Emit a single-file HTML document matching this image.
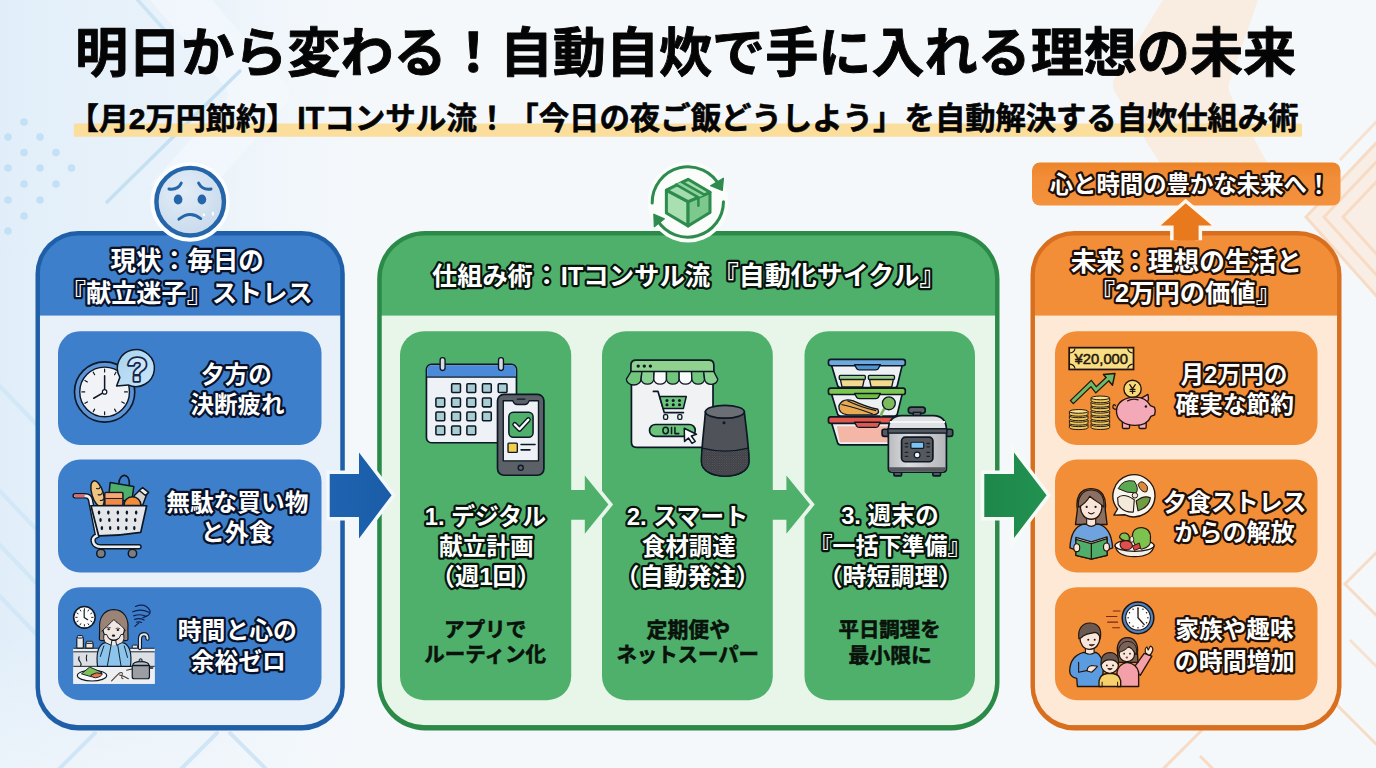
<!DOCTYPE html>
<html lang="ja"><head><meta charset="utf-8"><title>明日から変わる！自動自炊で手に入れる理想の未来</title>
<style>
html,body{margin:0;padding:0;background:#f3f7fb}
#stage{position:relative;width:1376px;height:768px;overflow:hidden;font-family:"Liberation Sans","Noto Sans CJK JP",sans-serif;font-weight:bold}
#stage>svg{position:absolute;left:0;top:0;display:block}
#stage svg text{font-family:"Liberation Sans","Noto Sans CJK JP",sans-serif;font-weight:bold;white-space:pre}
</style></head><body><div id="stage">
<svg width="1376" height="768" viewBox="0 0 1376 768"><defs><linearGradient id="bgl" x1="0" x2="1"><stop offset="0" stop-color="#e1eef9"/><stop offset=".55" stop-color="#e9f2fa" stop-opacity=".8"/><stop offset="1" stop-color="#f4f8fb" stop-opacity="0"/></linearGradient><linearGradient id="bgr" x1="1" x2="0"><stop offset="0" stop-color="#fbe9da"/><stop offset="1" stop-color="#fbe9da" stop-opacity="0"/></linearGradient></defs><rect width="1376" height="768" fill="#f4f8fb"/><rect width="400" height="768" fill="url(#bgl)"/><defs><linearGradient id="bgf" x1="0" y1="0" x2="0" y2="1"><stop offset="0" stop-color="#f4f8fb" stop-opacity="0"/><stop offset="1" stop-color="#f4f8fb" stop-opacity=".55"/></linearGradient></defs><rect x="0" y="640" width="400" height="128" fill="url(#bgf)"/><path d="M212 0L286 84Q292 94 286 104L215 185H150L226 100Q230 94 226 88L150 0Z" fill="#f6fafd" opacity=".55"/><g fill="none" stroke="#c6e0f3" stroke-width="3.5" stroke-linecap="round"><path d="M135 -3L170 36" opacity=".8"/><path d="M240 71L107 202"/></g><g fill="#c4e0f5"><circle cx="24" cy="122" r="3.8"/><circle cx="8" cy="137" r="3.8"/><circle cx="40" cy="137" r="3.8"/><circle cx="24" cy="152.5" r="3.8"/><circle cx="56" cy="152.5" r="3.8"/><circle cx="8" cy="168" r="3.8"/><circle cx="40" cy="168" r="3.8"/><circle cx="71.5" cy="168" r="3.8"/><circle cx="24" cy="184" r="3.8"/><circle cx="56" cy="184" r="3.8"/><circle cx="8" cy="200" r="3.8"/><circle cx="40" cy="200" r="3.8"/><circle cx="24" cy="216" r="3.8"/><circle cx="8" cy="231" r="3.8"/></g><g fill="none" stroke="#d0e6f6" stroke-width="4" stroke-linecap="round"><path d="M-5 381L36 424M-5 486L36 529M-5 540L36 583M-5 591L36 634" opacity=".85"/><path d="M95 733L55 773M217 733L177 773M230 733L270 773"/></g><path d="M1163 0L1116 76Q1110 85 1116 94L1163 168H1270L1231 96Q1226 87 1231 78L1258 0Z" fill="#fae8d9" opacity=".8"/><path d="M1380 139L1306 217L1380 300Z" fill="#fbeadc" opacity=".7"/><g fill="none" stroke="#f7dbc4" stroke-width="3" stroke-linejoin="miter"><path d="M1380 139L1306 217L1380 300"/><path d="M1380 158L1324 217L1380 279"/><path d="M1380 178L1343 217L1380 258"/><path d="M1380 118L1340 160" opacity=".8"/><path d="M1380 549L1345 584L1380 619"/><path d="M1336 704L1380 748"/><path d="M1350 640L1380 670" opacity=".8"/><path d="M1202 730L1160 772"/><path d="M1200 756L1216 772"/></g><rect x="73.8" y="123.6" width="1228.2" height="13.2" rx="1.5" fill="#fbdd9c"/><rect x="35.5" y="231.0" width="309.3" height="499.5" rx="43" fill="#1f5fa8"/><clipPath id="cp35"><rect x="39.8" y="235.3" width="300.7" height="490.0" rx="38.7"/></clipPath><g clip-path="url(#cp35)"><rect x="39.8" y="235.3" width="300.7" height="80.2" fill="#3e7fcb"/><rect x="39.8" y="315.5" width="300.7" height="409.8" fill="#e8f0f9"/></g><rect x="58.0" y="331.2" width="263.5" height="113.8" rx="22" fill="#3e7fcb"/><rect x="58.0" y="459.5" width="263.5" height="113.0" rx="22" fill="#3e7fcb"/><rect x="58.0" y="587.2" width="263.5" height="113.0" rx="22" fill="#3e7fcb"/><rect x="377.2" y="231.0" width="622.3" height="499.5" rx="48" fill="#2b8a47"/><clipPath id="cp377"><rect x="381.5" y="235.3" width="613.7" height="490.0" rx="43.7"/></clipPath><g clip-path="url(#cp377)"><rect x="381.5" y="235.3" width="613.7" height="80.2" fill="#4fb06c"/><rect x="381.5" y="315.5" width="613.7" height="409.8" fill="#e8f6ea"/></g><rect x="400.0" y="331.2" width="171.2" height="369.0" rx="24" fill="#4fb06c"/><rect x="602.0" y="331.2" width="170.8" height="369.0" rx="24" fill="#4fb06c"/><rect x="804.5" y="331.2" width="170.5" height="369.0" rx="24" fill="#4fb06c"/><rect x="1030.5" y="231.0" width="311.0" height="499.5" rx="44" fill="#d86f1f"/><clipPath id="cp1030"><rect x="1034.8" y="235.3" width="302.4" height="490.0" rx="39.7"/></clipPath><g clip-path="url(#cp1030)"><rect x="1034.8" y="235.3" width="302.4" height="80.2" fill="#f28d38"/><rect x="1034.8" y="315.5" width="302.4" height="409.8" fill="#fde9d6"/></g><rect x="1055.0" y="331.2" width="262.5" height="113.8" rx="22" fill="#f28d38"/><rect x="1055.0" y="459.5" width="262.5" height="113.0" rx="22" fill="#f28d38"/><rect x="1055.0" y="587.2" width="262.5" height="113.0" rx="22" fill="#f28d38"/><path d="M584.8 469.6L613.1 504.6L584.8 539.6Z" fill="#e8f6ea"/><path d="M569.5 490H584.8V475.4L608.4 504.6L584.8 533.8V519.7H569.5Z" fill="#4fb06c"/><path d="M786.4 469.6L814.7 504.6L786.4 539.6Z" fill="#e8f6ea"/><path d="M771.1 490H786.4V475.4L810.0 504.6L786.4 533.8V519.7H771.1Z" fill="#4fb06c"/><defs><linearGradient id="ba" x1="0" x2="1"><stop offset="0" stop-color="#1f63b0"/><stop offset="1" stop-color="#1a5ca8"/></linearGradient><linearGradient id="ga" x1="0" x2="1"><stop offset="0" stop-color="#1d8749"/><stop offset="1" stop-color="#229251"/></linearGradient></defs><path d="M329.7 474.1H359V452.6L391.6 495.2L359 538.4V517.1H329.7Z" fill="url(#ba)" stroke="#f3f8fc" stroke-width="7" paint-order="stroke"/><path d="M984.3 474.1H1014V452.6L1046.6 495.2L1014 538.1V517.1H984.3Z" fill="url(#ga)" stroke="#f6fbf7" stroke-width="7" paint-order="stroke"/><defs><linearGradient id="bng" x1="0" y1="0" x2="0" y2="1"><stop offset="0" stop-color="#ec8428"/><stop offset=".35" stop-color="#f28d38"/><stop offset="1" stop-color="#f3913c"/></linearGradient></defs><rect x="1032" y="162.5" width="308.5" height="43" rx="8" fill="url(#bng)"/><clipPath id="uac"><rect x="1150" y="190" width="80" height="50.3"/></clipPath><g clip-path="url(#uac)"><path d="M1185.7 203.3L1211.9 225.5H1198.6V246H1173.6V225.5H1160.7Z" fill="#e8791c" stroke="#fff8f0" stroke-width="7" paint-order="stroke" stroke-linejoin="miter" stroke-miterlimit="2.2"/></g><g transform="translate(140 155) scale(0.11723)"><defs><radialGradient id="sfg" cx=".4" cy=".35" r=".75"><stop offset="0" stop-color="#e3edf7"/><stop offset="1" stop-color="#c6d8eb"/></radialGradient></defs><circle cx="427" cy="400" r="340" fill="#fbfdff"/><circle cx="428" cy="398" r="288" fill="url(#sfg)" stroke="#2565a9" stroke-width="38"/><g fill="#2565a9"><ellipse cx="325" cy="380" rx="37" ry="43"/><ellipse cx="528" cy="380" rx="37" ry="43"/></g><g fill="none" stroke="#2565a9" stroke-width="25" stroke-linecap="round"><path d="M247 290Q325 300 352 240"/><path d="M606 290Q530 300 500 240"/><path d="M332 548Q425 470 518 542"/></g><ellipse cx="545" cy="510" rx="11" ry="12" fill="#fff"/><ellipse cx="622" cy="500" rx="9" ry="19" fill="#fff"/></g><g transform="translate(640 155) scale(0.11723)"><circle cx="410" cy="402" r="345" fill="#fbfdfb"/><g fill="none" stroke="#2e8b4e" stroke-width="26" stroke-linecap="round"><path d="M104 410A305 305 0 0 1 682 270"/><path d="M712 398A305 305 0 0 1 150 560"/></g><path d="M602 262L712 198L702 302Z" fill="#2e8b4e" stroke="#2e8b4e" stroke-width="10" stroke-linejoin="round"/><path d="M118 505L208 545L122 612Z" fill="#2e8b4e" stroke="#2e8b4e" stroke-width="10" stroke-linejoin="round"/><g stroke="#2e8b4e" stroke-width="26" stroke-linejoin="round"><path d="M225 300L410 398V605L225 495Z" fill="#a9e0b1"/><path d="M597 318V490L410 605V398Z" fill="#7dc98d"/><path d="M410 207L597 318L410 398L225 300Z" fill="#a3dcae"/></g><path d="M308 250L355 230L548 340L498 363Z" fill="#8fd39c"/><g fill="none" stroke="#2e8b4e" stroke-width="22" stroke-linecap="round"><path d="M308 252L498 362"/><path d="M358 232L548 338"/><path d="M498 365V432"/></g></g><g transform="translate(65 340) scale(0.11723)"><defs><linearGradient id="bq" x1="0" y1="0" x2="1" y2="1"><stop offset="0" stop-color="#a8d2ef"/><stop offset="1" stop-color="#c9e6f8"/></linearGradient></defs><circle cx="338" cy="443" r="257" fill="#5d95d8" stroke="#0d1826" stroke-width="14"/><circle cx="338" cy="443" r="212" fill="#f1f3f7" stroke="#0d1826" stroke-width="12"/><path d="M338 273L338 249M423 296L435 275M485 358L506 346M508 443L532 443M485 528L506 540M423 590L435 611M338 613L338 637M253 590L241 611M191 528L170 540M168 443L144 443M191 358L170 346M253 296L241 275" stroke="#0d1826" stroke-width="10" stroke-linecap="round"/><path d="M338 443V305M338 443L245 497" stroke="#0d1826" stroke-width="13" stroke-linecap="round"/><circle cx="338" cy="443" r="19" fill="#fff" stroke="#0d1826" stroke-width="10"/><path d="M440 392L468 319A158 158 0 1 1 538 383Z" fill="url(#bq)" stroke="#0d1826" stroke-width="13" stroke-linejoin="round"/></g><text x="127.2" y="381.2" font-size="33" fill="#cfe6f7" stroke="#14244a" stroke-width="3.6" stroke-linejoin="round" paint-order="stroke">?</text><g transform="translate(65 468) scale(0.12376)"><g transform="rotate(-17 262 205)"><ellipse cx="262" cy="208" rx="46" ry="108" fill="#f0c47e" stroke="#0d1826" stroke-width="12"/></g><path d="M255 165q25 10 30-12M268 215q25 8 32-14M285 262q18 4 26-12" fill="none" stroke="#0d1826" stroke-width="9" stroke-linecap="round"/><path d="M435 125C440 35 528 35 520 140" fill="none" stroke="#0d1826" stroke-width="13"/><path d="M365 118L556 150L540 265L350 258Z" fill="#4fb06c" stroke="#0d1826" stroke-width="12" stroke-linejoin="round"/><path d="M548 300L560 222L612 172L662 208L628 300Z" fill="#d6d3cc" stroke="#0d1826" stroke-width="12" stroke-linejoin="round"/><path d="M600 182L628 158L676 197L650 222Z" fill="#f1ece0" stroke="#0d1826" stroke-width="12" stroke-linejoin="round"/><rect x="322" y="198" width="146" height="104" rx="8" fill="#f08a48" stroke="#0d1826" stroke-width="12"/><path d="M328 246H462" stroke="#0d1826" stroke-width="8"/><rect x="329" y="205" width="132" height="36" fill="#f6a874"/><path d="M476 302A69 69 0 0 1 614 302Z" fill="#f28c38" stroke="#0d1826" stroke-width="12"/><path d="M82 225H165Q198 225 206 258L262 545Q214 560 232 606Q245 636 290 636H598" fill="none" stroke="#0d1826" stroke-width="44" stroke-linecap="round" stroke-linejoin="round"/><path d="M82 225H165Q198 225 206 258L262 545Q214 560 232 606Q245 636 290 636H598" fill="none" stroke="#eceef2" stroke-width="21" stroke-linecap="round" stroke-linejoin="round"/><path d="M84 225H150" stroke="#e8636a" stroke-width="21" stroke-linecap="round"/><path d="M210 305H660L612 520Q440 548 272 548Z" fill="#e4e6ea" stroke="#0d1826" stroke-width="14" stroke-linejoin="round"/><g fill="#0d1826"><ellipse cx="275" cy="360" rx="10" ry="17"/><ellipse cx="350" cy="360" rx="10" ry="17"/><ellipse cx="427" cy="360" rx="10" ry="17"/><ellipse cx="500" cy="360" rx="10" ry="17"/><ellipse cx="575" cy="360" rx="10" ry="17"/><ellipse cx="287" cy="420" rx="10" ry="17"/><ellipse cx="358" cy="420" rx="10" ry="17"/><ellipse cx="428" cy="420" rx="10" ry="17"/><ellipse cx="497" cy="420" rx="10" ry="17"/><ellipse cx="567" cy="420" rx="10" ry="17"/><ellipse cx="298" cy="485" rx="10" ry="17"/><ellipse cx="365" cy="485" rx="10" ry="17"/><ellipse cx="430" cy="485" rx="10" ry="17"/><ellipse cx="495" cy="485" rx="10" ry="17"/><ellipse cx="560" cy="485" rx="10" ry="17"/></g><g fill="#7e7e82" stroke="#0d1826" stroke-width="12"><circle cx="290" cy="690" r="34"/><circle cx="545" cy="690" r="34"/></g></g><g transform="translate(68 600) scale(0.11719)"><rect x="45" y="412" width="695" height="303" fill="#dcdfe4"/><rect x="45" y="412" width="695" height="30" fill="#eef0f3"/><rect x="45" y="566" width="695" height="150" fill="#edeff2"/><path d="M45 412H740M45 442H740M45 566H740" stroke="#0d1826" stroke-width="8"/><rect x="75" y="318" width="56" height="93" rx="10" fill="#e7e9ec" stroke="#0d1826" stroke-width="10"/><rect x="80" y="303" width="46" height="22" rx="8" fill="#cfd3d8" stroke="#0d1826" stroke-width="8"/><rect x="152" y="365" width="62" height="46" rx="8" fill="#efe9dc" stroke="#0d1826" stroke-width="10"/><rect x="156" y="352" width="54" height="18" rx="6" fill="#d9d3c6" stroke="#0d1826" stroke-width="8"/><path d="M614 410V335Q614 292 648 292Q680 292 678 330" fill="none" stroke="#0d1826" stroke-width="36" stroke-linecap="round"/><path d="M614 410V335Q614 292 648 292Q680 292 678 330" fill="none" stroke="#e4e7eb" stroke-width="17" stroke-linecap="round"/><rect x="548" y="385" width="45" height="26" rx="8" fill="#e4e7eb" stroke="#0d1826" stroke-width="8"/><circle cx="140" cy="148" r="92" fill="#fdfdfd" stroke="#0d1826" stroke-width="13"/><path d="M140 86L140 74M171 94L177 84M194 117L204 111M202 148L214 148M194 179L204 185M171 202L177 212M140 210L140 222M109 202L103 212M86 179L76 185M78 148L66 148M86 117L76 111M109 94L103 84" stroke="#0d1826" stroke-width="8" stroke-linecap="round"/><path d="M138 150V88M138 150L168 168" fill="none" stroke="#0d1826" stroke-width="10" stroke-linecap="round"/><path d="M575 55Q660 20 700 90Q710 130 640 150M552 100Q620 70 690 105M560 135Q620 115 670 140M568 165Q610 150 650 170M585 190Q610 180 628 192M605 195L570 225" fill="none" stroke="#0f1f4d" stroke-width="10" stroke-linecap="round"/><path d="M391 82C300 82 262 160 270 250L268 328Q266 347 290 347H490Q514 347 512 328L511 250C520 160 480 82 391 82Z" fill="#9b8375" stroke="#0d1826" stroke-width="10" stroke-linejoin="round"/><path d="M252 566C240 470 250 402 300 370L345 356H440L485 370C535 402 545 470 533 566Z" fill="#8cc4ec" stroke="#0d1826" stroke-width="10" stroke-linejoin="round"/><path d="M368 384L336 560M424 384L452 560M306 392L276 482M480 392L508 490" fill="none" stroke="#0d1826" stroke-width="8" stroke-linecap="round"/><path d="M298 240C298 180 335 152 391 152C447 152 482 180 482 240C482 300 440 342 391 342C340 342 298 300 298 240Z" fill="#f1e7e0" stroke="#0d1826" stroke-width="10"/><path d="M290 265C282 170 330 116 391 116C455 116 497 170 490 262C470 228 432 200 410 186L392 166L366 192C342 218 312 242 290 265Z" fill="#9b8375"/><path d="M290 265C312 242 342 218 366 192L392 166L410 186C432 200 470 228 490 262" fill="none" stroke="#0d1826" stroke-width="8" stroke-linejoin="round" stroke-linecap="round"/><g fill="#0d1826"><ellipse cx="347" cy="250" rx="11" ry="8"/><ellipse cx="426" cy="256" rx="11" ry="8"/><ellipse cx="388" cy="304" rx="14" ry="9"/></g><path d="M330 236q16 -8 32 0M410 242q16 -8 32 2" fill="none" stroke="#0d1826" stroke-width="6" stroke-linecap="round"/><path d="M368 350H415V385H368Z" fill="#f1e7e0"/><path d="M306 296Q298 330 316 362L368 386L374 346Q340 332 330 294Z" fill="#f1e7e0" stroke="#0d1826" stroke-width="8" stroke-linejoin="round"/><path d="M476 296Q484 330 466 362L414 386L408 346Q442 332 452 294Z" fill="#f1e7e0" stroke="#0d1826" stroke-width="8" stroke-linejoin="round"/><path d="M95 485q-12 25 8 42q15 15 5 35M160 470q-8 25 0 50" fill="none" stroke="#0d1826" stroke-width="9" stroke-linecap="round"/><ellipse cx="205" cy="645" rx="125" ry="46" fill="#fafafa" stroke="#0d1826" stroke-width="10"/><path d="M115 630L185 572L290 618L200 655Z" fill="#7fbf5a" stroke="#0d1826" stroke-width="8" stroke-linejoin="round"/><path d="M195 640Q240 610 292 628Q290 655 235 664Q200 662 195 640Z" fill="#e9774c" stroke="#0d1826" stroke-width="8" stroke-linejoin="round"/><path d="M372 690Q400 660 440 622Q470 610 462 640Q450 668 470 672M440 640Q480 650 515 672M500 600L545 588" fill="none" stroke="#4a3a2a" stroke-width="9" stroke-linecap="round"/><path d="M548 560H695V655Q695 672 678 672H565Q548 672 548 655Z" fill="#9b9fa4" stroke="#0d1826" stroke-width="10" stroke-linejoin="round"/><path d="M552 558Q552 528 620 524Q690 528 692 558Z" fill="#b9bcc0" stroke="#0d1826" stroke-width="10" stroke-linejoin="round"/><circle cx="620" cy="514" r="13" fill="#9b9fa4" stroke="#0d1826" stroke-width="8"/><path d="M695 580H722" stroke="#0d1826" stroke-width="14" stroke-linecap="round"/></g><g transform="translate(420 350) scale(0.16926)"><rect x="38" y="85" width="532" height="463" rx="30" fill="#eef1f5" stroke="#0d1826" stroke-width="10"/><path d="M43 160V115Q43 90 68 90H540Q565 90 565 115V160Z" fill="#4a8ad8"/><path d="M38 160H570" stroke="#0d1826" stroke-width="8"/><g fill="#d9dce0" stroke="#0d1826" stroke-width="8"><rect x="119" y="45" width="29" height="76" rx="14"/><rect x="464" y="45" width="29" height="76" rx="14"/></g><g fill="#a9cdd2" stroke="#0d1826" stroke-width="9"><rect x="187" y="199" width="52" height="52" rx="6"/><rect x="277" y="199" width="52" height="52" rx="6"/><rect x="369" y="199" width="52" height="52" rx="6"/><rect x="462" y="199" width="52" height="52" rx="6"/><rect x="94" y="284" width="52" height="52" rx="6"/><rect x="187" y="284" width="52" height="52" rx="6"/><rect x="277" y="284" width="52" height="52" rx="6"/><rect x="369" y="284" width="52" height="52" rx="6"/><rect x="94" y="366" width="52" height="52" rx="6"/><rect x="187" y="366" width="52" height="52" rx="6"/><rect x="277" y="366" width="52" height="52" rx="6"/><rect x="369" y="366" width="52" height="52" rx="6"/><rect x="94" y="449" width="52" height="52" rx="6"/><rect x="187" y="449" width="52" height="52" rx="6"/><rect x="277" y="449" width="52" height="52" rx="6"/></g><rect x="458" y="262" width="274" height="478" rx="38" fill="#5c6167" stroke="#0d1826" stroke-width="10"/><path d="M492 300H548Q556 322 575 322H618Q637 322 645 300H700V655H492Z" fill="#eef1f5" stroke="#0d1826" stroke-width="8" stroke-linejoin="round"/><path d="M575 290H620" stroke="#0d1826" stroke-width="8" stroke-linecap="round"/><rect x="525" y="368" width="143" height="147" rx="26" fill="#4fb06c" stroke="#0d1826" stroke-width="9"/><path d="M560 440L588 468L640 412" fill="none" stroke="#0d1826" stroke-width="30" stroke-linecap="round" stroke-linejoin="round"/><path d="M560 440L588 468L640 412" fill="none" stroke="#fff" stroke-width="14" stroke-linecap="round" stroke-linejoin="round"/><rect x="520" y="550" width="55" height="55" rx="5" fill="#f3ce4e" stroke="#0d1826" stroke-width="8"/><path d="M597 558H680M597 590H650" stroke="#0d1826" stroke-width="9" stroke-linecap="round"/><circle cx="595" cy="696" r="15" fill="#5c6167" stroke="#0d1826" stroke-width="8"/></g><g transform="translate(625 350) scale(0.16926)"><path d="M38 150H520V545Q520 575 490 575H68Q38 575 38 545Z" fill="#f0f2f4" stroke="#0d1826" stroke-width="10"/><path d="M35 128V90Q35 60 65 60H495Q525 60 525 90V128Z" fill="#8fd18f" stroke="#0d1826" stroke-width="10" stroke-linejoin="round"/><g fill="#0d1826"><circle cx="78" cy="95" r="10"/><circle cx="114" cy="95" r="10"/><circle cx="150" cy="95" r="10"/></g><path d="M35 128L8 172A43.5 34.8 0 0 0 95 172L100 128Z" fill="#72c57c" stroke="#0d1826" stroke-width="8" stroke-linejoin="round"/><path d="M100 128L95 172A37.5 30.0 0 0 0 170 172L172 128Z" fill="#8bd191" stroke="#0d1826" stroke-width="8" stroke-linejoin="round"/><path d="M172 128L170 172A37.5 30.0 0 0 0 245 172L245 128Z" fill="#fafafa" stroke="#0d1826" stroke-width="8" stroke-linejoin="round"/><path d="M245 128L245 172A37.5 30.0 0 0 0 320 172L320 128Z" fill="#72c57c" stroke="#0d1826" stroke-width="8" stroke-linejoin="round"/><path d="M320 128L320 172A37.5 30.0 0 0 0 395 172L393 128Z" fill="#fafafa" stroke="#0d1826" stroke-width="8" stroke-linejoin="round"/><path d="M393 128L395 172A37.5 30.0 0 0 0 470 172L465 128Z" fill="#72c57c" stroke="#0d1826" stroke-width="8" stroke-linejoin="round"/><path d="M465 128L470 172A39.0 31.2 0 0 0 548 172L525 128Z" fill="#8bd191" stroke="#0d1826" stroke-width="8" stroke-linejoin="round"/><path d="M168 245H195L232 370H345" fill="none" stroke="#0d1826" stroke-width="10" stroke-linecap="round" stroke-linejoin="round"/><path d="M205 275H362L345 345H225Z" fill="#6cc47a" stroke="#0d1826" stroke-width="9" stroke-linejoin="round"/><g fill="#0d1826"><circle cx="248" cy="298" r="9"/><circle cx="285" cy="298" r="9"/><circle cx="322" cy="298" r="9"/><circle cx="248" cy="324" r="9"/><circle cx="285" cy="324" r="9"/><circle cx="322" cy="324" r="9"/></g><g fill="#f0f2f4" stroke="#0d1826" stroke-width="8"><rect x="228" y="382" width="24" height="28" rx="8"/><rect x="312" y="382" width="24" height="28" rx="8"/></g><rect x="145" y="440" width="270" height="70" rx="35" fill="#6cc47a" stroke="#0d1826" stroke-width="10"/><g fill="none" stroke="#0d1826" stroke-width="9" stroke-linecap="round" stroke-linejoin="round"><ellipse cx="240" cy="476" rx="16" ry="19"/><path d="M275 458V494M295 458V494H318"/></g><path d="M350 462L422 498L392 508L415 540L396 552L375 520L352 540Z" fill="#fff" stroke="#0d1826" stroke-width="9" stroke-linejoin="round"/><defs><pattern id="mesh" width="14" height="14" patternUnits="userSpaceOnUse"><rect width="14" height="14" fill="#3a3c41"/><circle cx="4" cy="4" r="3" fill="#6b6e74"/><circle cx="11" cy="11" r="3" fill="#6b6e74"/></pattern></defs><path d="M475 365C468 470 452 560 452 660C452 715 520 745 592 745C664 745 732 715 732 660C732 560 716 470 705 365Z" fill="#4f5258" stroke="#0d1826" stroke-width="10"/><path d="M457 580Q592 615 727 580C732 610 732 640 732 660C732 715 664 745 592 745C520 745 452 715 452 660C452 640 452 610 457 580Z" fill="url(#mesh)" stroke="#0d1826" stroke-width="8"/><ellipse cx="590" cy="365" rx="115" ry="38" fill="#6b6e75" stroke="#0d1826" stroke-width="10"/><circle cx="585" cy="430" r="9" fill="#0d1826"/></g><g transform="translate(822 350) scale(0.16929)"><path d="M55 425 H475 L445 548 Q443 560 428 560 H110 Q95 560 92 548 Z" fill="#edf1f3" stroke="#0d1826" stroke-width="10" stroke-linejoin="round"/><path d="M88 450H440L432 545H105Z" fill="#f4b7a7"/><rect x="38" y="395" width="454" height="38" rx="14" fill="#e2574c" stroke="#0d1826" stroke-width="10"/><path d="M192 427 H345 L332 451 Q330 457 318 457 H220 Q208 457 206 451 Z" fill="#e2574c" stroke="#0d1826" stroke-width="8" stroke-linejoin="round"/><path d="M55 255 H475 L445 378 Q443 390 428 390 H110 Q95 390 92 378 Z" fill="#edf1f3" stroke="#0d1826" stroke-width="10" stroke-linejoin="round"/><path d="M100 330Q120 280 185 300Q260 335 330 350Q345 380 300 383H150Q95 375 100 330Z" fill="#e9aa52" stroke="#0d1826" stroke-width="8"/><path d="M115 322Q200 340 300 378M150 300Q230 340 320 358" fill="none" stroke="#0d1826" stroke-width="7"/><path d="M350 383Q360 350 385 335" fill="none" stroke="#7db55a" stroke-width="16" stroke-linecap="round"/><circle cx="395" cy="315" r="38" fill="#7dbb5c" stroke="#0d1826" stroke-width="8"/><rect x="38" y="225" width="454" height="38" rx="14" fill="#7cc84e" stroke="#0d1826" stroke-width="10"/><path d="M192 257 H345 L332 281 Q330 287 318 287 H220 Q208 287 206 281 Z" fill="#6fbd40" stroke="#0d1826" stroke-width="8" stroke-linejoin="round"/><path d="M55 85 H475 L445 210 Q443 222 428 222 H110 Q95 222 92 210 Z" fill="#edf1f3" stroke="#0d1826" stroke-width="10" stroke-linejoin="round"/><g stroke="#0d1826" stroke-width="8" stroke-linejoin="round"><path d="M108 170H250L240 218H118Z" fill="#f3da8c"/><rect x="102" y="150" width="154" height="24" rx="6" fill="#9ccf8a"/><path d="M280 170H422L412 218H290Z" fill="#f3da8c"/><rect x="274" y="150" width="154" height="24" rx="6" fill="#9ccf8a"/></g><rect x="38" y="55" width="454" height="38" rx="14" fill="#6fa8dc" stroke="#0d1826" stroke-width="10"/><path d="M192 87 H345 L332 111 Q330 117 318 117 H220 Q208 117 206 111 Z" fill="#4f94d6" stroke="#0d1826" stroke-width="8" stroke-linejoin="round"/><g fill="#55585d" stroke="#0d1826" stroke-width="10"><rect x="355" y="468" width="50" height="42" rx="12"/><rect x="722" y="468" width="50" height="42" rx="12"/><rect x="425" y="715" width="45" height="28" rx="6"/><rect x="655" y="715" width="45" height="28" rx="6"/></g><path d="M540 385V368M580 385V368" stroke="#0d1826" stroke-width="10"/><rect x="510" y="338" width="100" height="36" rx="16" fill="#5f6267" stroke="#0d1826" stroke-width="10"/><rect x="540" y="368" width="42" height="22" fill="#5f6267" stroke="#0d1826" stroke-width="8"/><defs><linearGradient id="ckg" x1="0" x2="1"><stop offset="0" stop-color="#b9babd"/><stop offset=".35" stop-color="#dcdddf"/><stop offset="1" stop-color="#b4b5b8"/></linearGradient></defs><path d="M392 470V700Q392 722 414 722H713Q735 722 735 700V470Z" fill="url(#ckg)" stroke="#0d1826" stroke-width="10" stroke-linejoin="round"/><path d="M392 472Q392 390 470 388H657Q735 390 735 472Z" fill="#dfe0e3" stroke="#0d1826" stroke-width="10" stroke-linejoin="round"/><path d="M400 425H727" stroke="#f4f4f6" stroke-width="12"/><rect x="390" y="465" width="347" height="26" fill="#55585d" stroke="#0d1826" stroke-width="8"/><path d="M396 692H731V700Q731 718 713 718H414Q396 718 396 700Z" fill="#55585d"/><rect x="470" y="515" width="185" height="145" rx="22" fill="#55585d" stroke="#0d1826" stroke-width="10"/><rect x="525" y="545" width="76" height="36" rx="6" fill="#7ec3f0" stroke="#0d1826" stroke-width="7"/><circle cx="562" cy="620" r="17" fill="#f4f4f6" stroke="#0d1826" stroke-width="7"/><path d="M492 552h14M492 572h14M620 552h14M620 572h14M492 605h14M492 628h14M620 605h14M620 628h14" stroke="#1d2025" stroke-width="8" stroke-linecap="round"/></g><g transform="translate(1062 340) scale(0.12376)"><rect x="58" y="62" width="520" height="176" fill="#f7dd84" stroke="#24150b" stroke-width="14"/><path d="M65 105Q100 100 105 69M571 105Q536 100 531 69M65 195Q100 200 105 231M571 195Q536 200 531 231" fill="none" stroke="#24150b" stroke-width="9"/><path d="M92 490L235 352L275 402L372 312" fill="none" stroke="#24150b" stroke-width="44" stroke-linejoin="miter" stroke-linecap="square"/><path d="M335 278L428 270L408 365Z" fill="#6dbb6a" stroke="#24150b" stroke-width="12" stroke-linejoin="round"/><path d="M92 490L235 352L275 402L372 312" fill="none" stroke="#6dbb6a" stroke-width="24" stroke-linejoin="miter" stroke-linecap="square"/><path d="M60 685 v24 a75 15 0 0 0 150 0 v-24Z" fill="#eec65a" stroke="#24150b" stroke-width="8"/><ellipse cx="135" cy="685" rx="75" ry="15" fill="#f9e290" stroke="#24150b" stroke-width="8"/><path d="M60 649 v24 a75 15 0 0 0 150 0 v-24Z" fill="#eec65a" stroke="#24150b" stroke-width="8"/><ellipse cx="135" cy="649" rx="75" ry="15" fill="#f9e290" stroke="#24150b" stroke-width="8"/><path d="M60 613 v24 a75 15 0 0 0 150 0 v-24Z" fill="#eec65a" stroke="#24150b" stroke-width="8"/><ellipse cx="135" cy="613" rx="75" ry="15" fill="#f9e290" stroke="#24150b" stroke-width="8"/><path d="M60 577 v24 a75 15 0 0 0 150 0 v-24Z" fill="#eec65a" stroke="#24150b" stroke-width="8"/><ellipse cx="135" cy="577" rx="75" ry="15" fill="#f9e290" stroke="#24150b" stroke-width="8"/><path d="M235 684 v24 a75 15 0 0 0 150 0 v-24Z" fill="#eec65a" stroke="#24150b" stroke-width="8"/><ellipse cx="310" cy="684" rx="75" ry="15" fill="#f9e290" stroke="#24150b" stroke-width="8"/><path d="M235 648 v24 a75 15 0 0 0 150 0 v-24Z" fill="#eec65a" stroke="#24150b" stroke-width="8"/><ellipse cx="310" cy="648" rx="75" ry="15" fill="#f9e290" stroke="#24150b" stroke-width="8"/><path d="M235 612 v24 a75 15 0 0 0 150 0 v-24Z" fill="#eec65a" stroke="#24150b" stroke-width="8"/><ellipse cx="310" cy="612" rx="75" ry="15" fill="#f9e290" stroke="#24150b" stroke-width="8"/><path d="M235 576 v24 a75 15 0 0 0 150 0 v-24Z" fill="#eec65a" stroke="#24150b" stroke-width="8"/><ellipse cx="310" cy="576" rx="75" ry="15" fill="#f9e290" stroke="#24150b" stroke-width="8"/><path d="M235 540 v24 a75 15 0 0 0 150 0 v-24Z" fill="#eec65a" stroke="#24150b" stroke-width="8"/><ellipse cx="310" cy="540" rx="75" ry="15" fill="#f9e290" stroke="#24150b" stroke-width="8"/><path d="M235 504 v24 a75 15 0 0 0 150 0 v-24Z" fill="#eec65a" stroke="#24150b" stroke-width="8"/><ellipse cx="310" cy="504" rx="75" ry="15" fill="#f9e290" stroke="#24150b" stroke-width="8"/><path d="M235 468 v24 a75 15 0 0 0 150 0 v-24Z" fill="#eec65a" stroke="#24150b" stroke-width="8"/><ellipse cx="310" cy="468" rx="75" ry="15" fill="#f9e290" stroke="#24150b" stroke-width="8"/><circle cx="570" cy="395" r="70" fill="#f6d978" stroke="#24150b" stroke-width="11"/><path d="M548 360L570 395L592 360M570 395V432M550 398H590M550 415H590" fill="none" stroke="#24150b" stroke-width="10" stroke-linecap="round"/><g fill="#f4a9b9" stroke="#24150b" stroke-width="11" stroke-linejoin="round"><path d="M488 640V705Q488 715 500 715H535Q546 715 546 705V650Z"/><path d="M622 650V705Q622 715 634 715H668Q680 715 680 705V640Z"/><path d="M640 470L695 440Q705 475 690 505Z"/><path d="M440 575C440 505 505 462 590 462C650 462 690 485 715 530L748 545Q760 575 748 605L718 618C700 665 650 690 590 690C505 690 440 645 440 575Z"/></g><path d="M440 560Q405 560 412 532Q420 515 432 530" fill="none" stroke="#24150b" stroke-width="10" stroke-linecap="round"/><path d="M530 492Q570 470 615 484" fill="none" stroke="#24150b" stroke-width="10" stroke-linecap="round"/><circle cx="678" cy="538" r="10" fill="#24150b"/></g><text x="1074.6" y="364.3" font-size="14.8" style="font-weight:normal" fill="#24150b" stroke="#24150b" stroke-width="0.5" stroke-linejoin="round">¥20,000</text><g transform="translate(1065 470) scale(0.12376)"><path d="M210 150C120 150 85 225 100 320L85 440H340L325 320C338 225 300 150 210 150Z" fill="#8a6f62" stroke="#24150b" stroke-width="11" stroke-linejoin="round"/><path d="M40 630C45 530 80 455 150 438L270 438C340 455 378 530 385 630L330 650H95Z" fill="#6fa3e0" stroke="#24150b" stroke-width="11" stroke-linejoin="round"/><path d="M175 385H248V440Q212 470 175 440Z" fill="#f9e6da" stroke="#24150b" stroke-width="9"/><path d="M125 300C125 235 160 205 212 205C262 205 298 235 298 300C298 355 260 398 212 398C162 398 125 355 125 300Z" fill="#f9e6da" stroke="#24150b" stroke-width="11"/><path d="M108 300C100 210 150 160 215 162C285 165 320 215 315 300C290 270 240 250 200 212C180 250 150 280 108 300Z" fill="#8a6f62" stroke="#24150b" stroke-width="9" stroke-linejoin="round"/><g fill="#24150b"><circle cx="175" cy="298" r="9"/><circle cx="247" cy="298" r="9"/></g><path d="M190 345Q212 365 235 345" fill="none" stroke="#24150b" stroke-width="9" stroke-linecap="round"/><path d="M88 545L213 580L340 540V690L213 720L88 690Z" fill="#fafafa" stroke="#24150b" stroke-width="11" stroke-linejoin="round"/><path d="M88 560L213 595L340 555V690L213 720L88 690Z" fill="#4faf6a" stroke="#24150b" stroke-width="11" stroke-linejoin="round"/><path d="M213 595V720" stroke="#24150b" stroke-width="10"/><g fill="#f9e6da" stroke="#24150b" stroke-width="9"><ellipse cx="95" cy="628" rx="24" ry="32"/><ellipse cx="335" cy="622" rx="24" ry="32"/></g><path d="M395 365L425 315A170 170 0 1 1 485 362Z" fill="#f8f6f1" stroke="#24150b" stroke-width="11" stroke-linejoin="round"/><path d="M430 150Q470 70 560 90Q600 150 575 185Q500 190 430 150Z" fill="#5aa852" stroke="#24150b" stroke-width="8" stroke-linejoin="round"/><path d="M590 120Q610 80 640 105Q680 130 660 175Q620 190 590 120Z" fill="#d98a3e" stroke="#24150b" stroke-width="8" stroke-linejoin="round"/><path d="M425 225Q470 180 560 240L552 340Q470 345 430 280Z" fill="#f3eadc" stroke="#24150b" stroke-width="9" stroke-linejoin="round"/><path d="M575 250Q640 200 690 225Q680 300 590 330Z" fill="#6f9c45" stroke="#24150b" stroke-width="9" stroke-linejoin="round"/><circle cx="565" cy="205" r="22" fill="#efe6d2" stroke="#24150b" stroke-width="8"/><path d="M405 610Q420 700 560 700Q705 700 720 610Z" fill="#f1efea" stroke="#24150b" stroke-width="11" stroke-linejoin="round"/><ellipse cx="562" cy="610" rx="158" ry="48" fill="#fbfaf7" stroke="#24150b" stroke-width="11"/><path d="M545 540Q540 470 620 465Q700 475 690 560Q700 620 620 640Q550 620 545 540Z" fill="#7dc24f" stroke="#24150b" stroke-width="9" stroke-linejoin="round"/><path d="M440 545Q445 505 490 510Q525 520 520 565Q470 585 440 545Z" fill="#7dc24f" stroke="#24150b" stroke-width="9" stroke-linejoin="round"/><path d="M445 600Q450 570 500 572Q545 580 545 615Q530 650 485 645Q445 635 445 600Z" fill="#e04e4e" stroke="#24150b" stroke-width="9" stroke-linejoin="round"/><path d="M545 615L600 590L610 630L560 650Z" fill="#d6453f" stroke="#24150b" stroke-width="8" stroke-linejoin="round"/><ellipse cx="540" cy="560" rx="16" ry="24" fill="#f3eadc" stroke="#24150b" stroke-width="7"/></g><g transform="translate(1065 598) scale(0.12376)"><path d="M390 105H445M335 150H420M345 195H425M385 240H440" stroke="#7a2418" stroke-width="9" stroke-linecap="round"/><circle cx="590" cy="160" r="128" fill="#4a84c8" stroke="#24150b" stroke-width="12"/><circle cx="590" cy="160" r="100" fill="#fdfdfd" stroke="#24150b" stroke-width="9"/><g fill="#24150b"><circle cx="590" cy="80" r="6"/><circle cx="630" cy="91" r="6"/><circle cx="659" cy="120" r="6"/><circle cx="670" cy="160" r="6"/><circle cx="659" cy="200" r="6"/><circle cx="630" cy="229" r="6"/><circle cx="590" cy="240" r="6"/><circle cx="550" cy="229" r="6"/><circle cx="521" cy="200" r="6"/><circle cx="510" cy="160" r="6"/><circle cx="521" cy="120" r="6"/><circle cx="550" cy="91" r="6"/></g><path d="M590 160V85M590 160L640 215" fill="none" stroke="#24150b" stroke-width="11" stroke-linecap="round"/><path d="M548 575L640 448L702 470L608 625Z" fill="#f4a0a8" stroke="#24150b" stroke-width="11" stroke-linejoin="round"/><path d="M652 445Q640 410 662 395L672 420L690 388Q712 395 710 420Q700 455 680 465Z" fill="#f9e6da" stroke="#24150b" stroke-width="9" stroke-linejoin="round"/><path d="M420 715V600Q430 535 500 520Q580 530 595 600V715Z" fill="#f4a0a8" stroke="#24150b" stroke-width="11" stroke-linejoin="round"/><path d="M505 320C440 320 415 380 425 440L430 520H590L585 440C592 380 570 320 505 320Z" fill="#7b6258" stroke="#24150b" stroke-width="11" stroke-linejoin="round"/><ellipse cx="500" cy="455" rx="62" ry="60" fill="#f9e6da" stroke="#24150b" stroke-width="10"/><path d="M432 440C432 370 480 345 520 352C570 360 588 410 575 460C560 430 540 405 515 392C490 420 465 432 432 440Z" fill="#7b6258" stroke="#24150b" stroke-width="8" stroke-linejoin="round"/><g fill="#24150b"><circle cx="478" cy="450" r="7"/><circle cx="525" cy="450" r="7"/></g><ellipse cx="500" cy="480" rx="10" ry="8" fill="#9a3d3d"/><path d="M100 715L95 650Q40 640 38 590Q40 470 150 440H250Q300 460 310 560L300 715Z" fill="#5b9be0" stroke="#24150b" stroke-width="11" stroke-linejoin="round"/><path d="M110 520V600L185 585" fill="none" stroke="#24150b" stroke-width="9" stroke-linecap="round" stroke-linejoin="round"/><path d="M180 590Q175 555 215 545L262 552Q240 580 215 600Z" fill="#f9e6da" stroke="#24150b" stroke-width="9" stroke-linejoin="round"/><path d="M165 400H235V445Q200 465 165 445Z" fill="#f9e6da" stroke="#24150b" stroke-width="9"/><path d="M120 320C120 260 150 225 200 225C250 225 282 260 282 320C282 370 250 415 200 415C150 415 120 370 120 320Z" fill="#f9e6da" stroke="#24150b" stroke-width="11"/><path d="M112 330C100 250 140 200 205 202C270 205 300 250 285 330C280 300 262 280 240 278C200 290 150 290 135 320Z" fill="#6a5a52" stroke="#24150b" stroke-width="9" stroke-linejoin="round"/><g fill="#24150b"><circle cx="188" cy="338" r="8"/><circle cx="240" cy="338" r="8"/></g><path d="M195 378Q215 398 238 376Z" fill="#8a3b3b" stroke="#24150b" stroke-width="6"/><path d="M275 715V670Q285 615 340 610H385Q440 615 450 670V715Z" fill="#f6d06a" stroke="#24150b" stroke-width="11" stroke-linejoin="round"/><path d="M300 715V680M425 715V680" stroke="#24150b" stroke-width="8" stroke-linecap="round"/><ellipse cx="362" cy="540" rx="70" ry="68" fill="#f9e6da" stroke="#24150b" stroke-width="10"/><path d="M292 540C285 470 320 440 365 440C415 442 440 480 432 540C420 515 400 498 365 500C335 498 305 515 292 540Z" fill="#6a5a52" stroke="#24150b" stroke-width="9" stroke-linejoin="round"/><g fill="#24150b"><circle cx="338" cy="545" r="7"/><circle cx="388" cy="545" r="7"/></g><path d="M345 570Q362 592 382 570Z" fill="#8a3b3b" stroke="#24150b" stroke-width="6"/></g>
<g fill="#050505" stroke="#050505" stroke-linejoin="round">
<text x="75.0" y="72.1" font-size="53.1" stroke-width="0.9">明日から変わる！自動自炊で手に入れる理想の未来</text>
<g stroke-width="0.6">
<text x="68.7" y="128.6" font-size="30.1">【月2万円節約】</text>
<text x="297.2" y="128.7" font-size="30.5">ITコンサル流！</text>
<text x="508.3" y="128.7" font-size="30.4">「今日の夜ご飯どうしよう」</text>
<text x="904.6" y="128.6" font-size="30.3">を自動解決する自炊仕組み術</text>
</g>
</g>
<g fill="#fff" stroke="#07122a" stroke-width="4.5" stroke-linejoin="round" paint-order="stroke">
<text x="110.4" y="269.7" font-size="25.6">現状：毎日の</text>
<text x="60.8" y="302.3" font-size="25.2">『献立迷子』ストレス</text>
<text x="201.1" y="382.7" font-size="23.6">夕方の</text>
<text x="190.6" y="413.2" font-size="23.5">決断疲れ</text>
<text x="166.2" y="510.6" font-size="23.7">無駄な買い物</text>
<text x="200.8" y="541.0" font-size="24.0">と外食</text>
<text x="177.8" y="638.5" font-size="23.8">時間と心の</text>
<text x="190.7" y="669.5" font-size="23.8">余裕ゼロ</text>
</g>
<g fill="#fff" stroke="#06140b" stroke-width="4.5" stroke-linejoin="round" paint-order="stroke">
<text x="432.0" y="284.8" font-size="25.2">仕組み術</text>
<text x="533.8" y="285.1" font-size="25.8">：</text>
<text x="560.7" y="284.9" font-size="25.4">ITコンサル流</text>
<text x="712.7" y="285.1" font-size="26.0">『自動化サイクル』</text>
<text x="424.8" y="524.5" font-size="23.8">1. デジタル</text>
<text x="438.9" y="554.6" font-size="23.7">献立計画</text>
<text x="430.8" y="585.0" font-size="24.2">（週1回）</text>
<text x="626.7" y="524.5" font-size="23.9">2. スマート</text>
<text x="642.0" y="554.5" font-size="23.4">食材調達</text>
<text x="615.3" y="585.0" font-size="24.1">（自動発注）</text>
<text x="841.2" y="524.4" font-size="23.7">3. 週末の</text>
<text x="809.5" y="554.4" font-size="23.0">『一括下準備』</text>
<text x="818.4" y="584.9" font-size="24.0">（時短調理）</text>
</g>
<g fill="#0a120c" stroke="#0a120c" stroke-width="0.6" stroke-linejoin="round">
<text x="443.9" y="636.8" font-size="20.6">アプリで</text>
<text x="424.2" y="662.4" font-size="20.5">ルーティン化</text>
<text x="646.5" y="636.9" font-size="20.9">定期便や</text>
<text x="616.4" y="662.4" font-size="20.4">ネットスーパー</text>
<text x="838.6" y="636.8" font-size="20.4">平日調理を</text>
<text x="848.6" y="662.5" font-size="20.8">最小限に</text>
</g>
<g fill="#fff" stroke="#1e1006" stroke-width="4.5" stroke-linejoin="round" paint-order="stroke">
<text x="1049.7" y="193.4" font-size="23.4">心と時間の豊かな未来へ！</text>
<text x="1070.8" y="270.7" font-size="25.7">未来：理想の生活と</text>
<text x="1089.8" y="302.4" font-size="25.3">『2万円の価値』</text>
<text x="1180.8" y="382.6" font-size="23.4">月2万円の</text>
<text x="1175.5" y="413.4" font-size="23.7">確実な節約</text>
<text x="1163.1" y="510.7" font-size="23.9">夕食ストレス</text>
<text x="1174.5" y="541.0" font-size="24.0">からの解放</text>
<text x="1175.2" y="637.8" font-size="23.7">家族や趣味</text>
<text x="1174.8" y="669.5" font-size="24.0">の時間増加</text>
</g>
</svg>
</div></body></html>
